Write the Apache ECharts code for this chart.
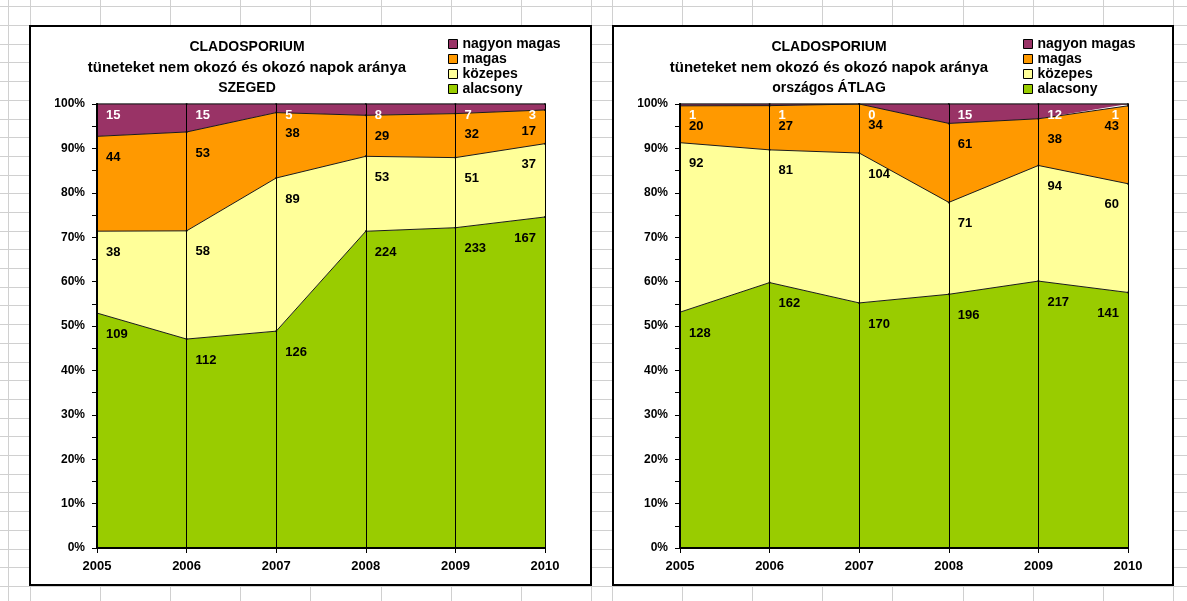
<!DOCTYPE html>
<html>
<head>
<meta charset="utf-8">
<script src="https://cdn.jsdelivr.net/npm/echarts@6/dist/echarts.min.js"></script>
<style>
  html, body { margin: 0; padding: 0; background: #fff; }
  #sheet { position: absolute; left: 0; top: 0; width: 1187px; height: 601px; overflow: hidden; }
  .gl { position: absolute; background: #d0d0d0; }
  .box { position: absolute; box-sizing: border-box; border: 2px solid #000; background: #fff; }
  #chart { position: absolute; left: 0; top: 0; width: 1187px; height: 601px; }
</style>
</head>
<body>
<div id="sheet"></div>
<div class="box" style="left:29px; top:25px; width:563px; height:561px;"></div>
<div class="box" style="left:612px; top:25px; width:562px; height:561px;"></div>
<div id="chart"></div>
<script>
// data
const years = ['2005', '2006', '2007', '2008', '2009', '2010'];
const seriesNames = ['alacsony', 'közepes', 'magas', 'nagyon magas'];

const szegedAlacsony = [109, 112, 126, 224, 233, 167];
const szegedKozepes = [38, 58, 89, 53, 51, 37];
const szegedMagas = [44, 53, 38, 29, 32, 17];
const szegedNagyonMagas = [15, 15, 5, 8, 7, 3];

const atlagAlacsony = [128, 162, 170, 196, 217, 141];
const atlagKozepes = [92, 81, 104, 71, 94, 60];
const atlagMagas = [20, 27, 34, 61, 38, 43];
const atlagNagyonMagas = [1, 1, 0, 15, 12, 1];

const FONT = "'Liberation Sans', Arial, sans-serif";
const colors = ['#99cc00', '#ffff99', '#ff9900', '#993366'];
const labelColors = ['#000', '#000', '#000', '#fff'];

// spreadsheet grid behind the charts
const sheet = document.getElementById('sheet');
function addLine(x, y, w, h) {
    const d = document.createElement('div');
    d.className = 'gl';
    d.style.left = x + 'px'; d.style.top = y + 'px';
    d.style.width = w + 'px'; d.style.height = h + 'px';
    sheet.appendChild(d);
}
for (let y = 6.3; y < 601; y += 18.7) addLine(0, Math.round(y), 1187, 1);
addLine(8, 0, 1, 601);
for (let k = 0; k <= 8; k++) addLine(Math.round(29.5 + k * 70.2), 0, 1, 601);
for (let k = 0; k <= 8; k++) addLine(Math.round(611.5 + k * 70.2), 0, 1, 601);

function stackSeries(rows, idx) {
    const totals = years.map((_, i) => rows.reduce((s, r) => s + r[i], 0));
    return rows.map((row, s) => {
        const dy = s === 3 ? 12 : 22;
        return {
            name: seriesNames[s],
            type: 'line',
            stack: 'st' + idx,
            xAxisIndex: idx,
            yAxisIndex: idx,
            symbol: 'circle',
            symbolSize: 2,
            itemStyle: { color: '#1a1a1a' },
            lineStyle: { color: '#1a1a1a', width: 1 },
            areaStyle: { color: colors[s], opacity: 1 },
            emphasis: { disabled: true },
            label: {
                show: true,
                position: [10, dy],
                align: 'left',
                verticalAlign: 'middle',
                color: labelColors[s],
                fontSize: 13,
                fontWeight: 'bold',
                fontFamily: FONT,
                formatter: p => String(row[p.dataIndex])
            },
            data: row.map((v, i) => {
                const item = { value: v / totals[i] * 100 };
                if (i === row.length - 1) item.label = { position: [-8, dy], align: 'right' };
                return item;
            })
        };
    });
}

function axesFor(idx) {
    return {
        x: {
            type: 'category', gridIndex: idx, data: years, boundaryGap: false, z: 5,
            axisLine: { lineStyle: { color: '#000', width: 2 } },
            axisTick: { length: 5, lineStyle: { color: '#000' } },
            splitLine: { show: true, lineStyle: { color: '#000', width: 1 } },
            axisLabel: { color: '#000', fontSize: 13, fontWeight: 'bold', fontFamily: FONT, margin: 12 }
        },
        y: {
            type: 'value', gridIndex: idx, min: 0, max: 100, interval: 10, z: 5,
            axisLine: { show: true, lineStyle: { color: '#000', width: 2 } },
            axisTick: { show: true, length: 5, lineStyle: { color: '#000' } },
            minorTick: { show: true, splitNumber: 2, length: 5, lineStyle: { color: '#000' } },
            splitLine: { show: false },
            axisLabel: { formatter: '{value}%', color: '#000', fontSize: 12, fontWeight: 'bold', fontFamily: FONT, margin: 12 }
        }
    };
}

function legendFor(left) {
    return {
        left: left, top: 36.5, padding: 0, orient: 'vertical', icon: 'rect',
        itemWidth: 9, itemHeight: 9, itemGap: 0, selectedMode: false,
        textStyle: { color: '#000', fontSize: 14, fontWeight: 'bold', fontFamily: FONT, lineHeight: 15 },
        data: [3, 2, 1, 0].map(s => ({
            name: seriesNames[s],
            itemStyle: { color: colors[s], borderColor: '#000', borderWidth: 1, opacity: 1 }
        }))
    };
}

function titleFor(left, place) {
    const base = { color: '#000', fontWeight: 'bold', fontFamily: FONT, lineHeight: 20.5 };
    return {
        text: '{a|CLADOSPORIUM}\n{b|tüneteket nem okozó és okozó napok aránya}\n{a|' + place + '}',
        left: left, top: 37, padding: 0, textAlign: 'center',
        textStyle: {
            ...base, fontSize: 14,
            rich: { a: { ...base, fontSize: 14 }, b: { ...base, fontSize: 15 } }
        }
    };
}

const a0 = axesFor(0), a1 = axesFor(1);
const chart = echarts.init(document.getElementById('chart'));
chart.setOption({
    animation: false,
    title: [titleFor(247, 'SZEGED'), titleFor(829, 'országos ÁTLAG')],
    legend: [legendFor(448), legendFor(1023)],
    grid: [
        { left: 97, right: 642, top: 104, bottom: 53, show: true, borderColor: '#000', borderWidth: 1, backgroundColor: 'transparent' },
        { left: 680, right: 59, top: 104, bottom: 53, show: true, borderColor: '#000', borderWidth: 1, backgroundColor: 'transparent' }
    ],
    xAxis: [a0.x, a1.x],
    yAxis: [a0.y, a1.y],
    series: [
        ...stackSeries([szegedAlacsony, szegedKozepes, szegedMagas, szegedNagyonMagas], 0),
        ...stackSeries([atlagAlacsony, atlagKozepes, atlagMagas, atlagNagyonMagas], 1)
    ]
});
</script>
</body>
</html>
